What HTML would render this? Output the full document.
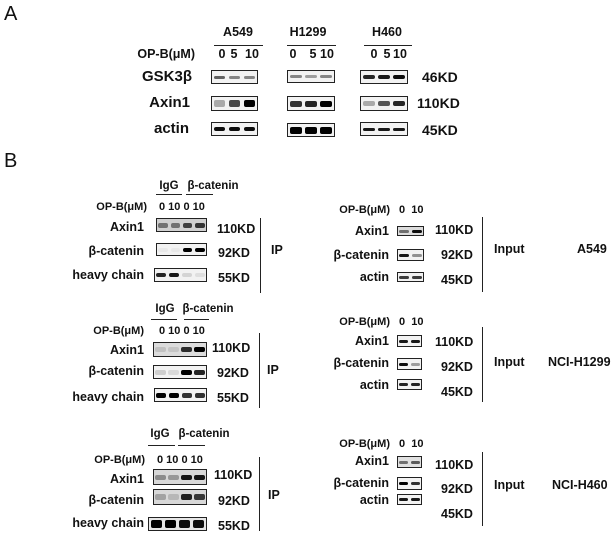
<!DOCTYPE html>
<html><head><meta charset="utf-8"><style>
html,body{margin:0;padding:0;background:#fff;}
#c{position:relative;width:616px;height:538px;overflow:hidden;background:#fff;font-family:"Liberation Sans",Arial,sans-serif;color:#111;}
.t{position:absolute;white-space:pre;font-weight:bold;}
.b{position:absolute;border:1px solid #222;box-sizing:border-box;background:#f2f2f2;overflow:hidden;}
.band{position:absolute;border-radius:2px;}
.l{position:absolute;background:#222;}
</style></head><body><div id="c"></div>
<script>
var C=document.getElementById('c');
function t(x,y,s,fs,al,fw){var d=document.createElement('div');d.className='t';d.textContent=s;d.style.fontSize=fs+'px';d.style.lineHeight=(fs*1.2)+'px';d.style.top=(y-fs*0.6)+'px';if(fw)d.style.fontWeight=fw;
if(al=='r'){d.style.left=(x-300)+'px';d.style.width='300px';d.style.textAlign='right';}else if(al=='c'){d.style.left=(x-150)+'px';d.style.width='300px';d.style.textAlign='center';}else d.style.left=x+'px';C.appendChild(d);}
function ln(x1,y1,x2,y2){var d=document.createElement('div');d.className='l';d.style.left=x1+'px';d.style.top=y1+'px';d.style.width=Math.max(1,x2-x1)+'px';d.style.height=Math.max(1,y2-y1)+'px';C.appendChild(d);}
function box(x1,y1,x2,y2,lanes,th,bg){var d=document.createElement('div');d.className='b';d.style.left=x1+'px';d.style.top=y1+'px';d.style.width=(x2-x1)+'px';d.style.height=(y2-y1)+'px';if(bg)d.style.background=bg;
var w=x2-x1-2,h=y2-y1-2,n=lanes.length;for(var i=0;i<n;i++){var b=document.createElement('div');b.className='band';var bw=w/n*0.78;b.style.left=((i+0.5)*w/n-bw/2)+'px';b.style.width=bw+'px';b.style.top=(h/2-th/2)+'px';b.style.height=th+'px';b.style.background='rgba(0,0,0,'+lanes[i]+')';d.appendChild(b);}C.appendChild(d);}
// Panel labels
t(4,14,'A',20,'l','normal');t(4,161,'B',20,'l','normal');
// Part A
t(238,32,'A549',12.5,'c');t(308,32,'H1299',12.5,'c');t(387,32,'H460',12.5,'c');
ln(214,45,263,46);ln(287,45,336,46);ln(364,45,412,46);
t(195,54,'OP-B(μM)',12.5,'r');
[[222,'0'],[234,'5'],[252,'10'],[293,'0'],[313,'5'],[327,'10'],[374,'0'],[387,'5'],[400,'10']].forEach(function(a){t(a[0],54,a[1],12.5,'c');});
t(192,77,'GSK3β',15,'r');t(190,103,'Axin1',15,'r');t(189,129,'actin',15,'r');
box(211,70,258,84,[.6,.45,.45],3);box(287,70,335,83,[.45,.35,.45],3);box(360,70,408,84,[.85,.9,.95],4);
box(211,96,258,111,[.3,.7,1],7);box(287,96,335,111,[.8,.85,1],6);box(360,96,408,111,[.3,.65,.85],5);
box(211,122,258,136,[.95,.95,.95],4);box(287,123,335,137,[1,1,1],7);box(360,122,408,136,[.9,.9,.9],3);
t(422,77,'46KD',14);t(417,103,'110KD',14);t(422,130,'45KD',14);
// Part B IP blocks
function ip(o){
t(o.ig,o.hy,'IgG',11.5,'c');t(o.bc,o.hy,'β-catenin',11.5,'c');
ln(o.u1[0],o.uy,o.u1[1],o.uy+1);ln(o.u2[0],o.uy,o.u2[1],o.uy+1);
t(o.opx,o.opy,'OP-B(μM)',11,'r');t(o.nx,o.opy,'0 10 0 10',11,'l');
t(144,o.r[0][5],'Axin1',12.5,'r');t(144,o.r[1][5],'β-catenin',12.5,'r');t(144,o.r[2][5],'heavy chain',12.5,'r');
o.r.forEach(function(r){box(r[0],r[1],207,r[2],r[3],r[4],r[6]);t(r[7],r[8],r[9],12.5);});
ln(o.vx,o.v[0],o.vx+1,o.v[1]);t(o.ipx,o.ipy,'IP',12.5);
}
ip({ig:169,bc:213,hy:187,uy:194,u1:[156,182],u2:[186,213],opx:147,opy:208,nx:159,
r:[[156,218,232,[.45,.45,.7,.75],5,227,'#d0d0d0',217,229,'110KD'],[156,243,256,[.04,.04,1,1],4,251,'#f2f2f2',218,253,'92KD'],[154,268,282,[.85,.9,.12,.08],4,275,'#f2f2f2',218,278,'55KD']],
vx:260,v:[218,293],ipx:271,ipy:250});
ip({ig:165,bc:208,hy:310,uy:319,u1:[151,177],u2:[184,209],opx:144,opy:332,nx:159,
r:[[153,342,357,[.12,.1,.8,1],5,350,'#dcdcdc',212,348,'110KD'],[153,365,379,[.15,.1,1,.85],5,371,'#f2f2f2',217,373,'92KD'],[154,388,402,[1,1,.8,.8],5,397,'#f2f2f2',217,398,'55KD']],
vx:259,v:[333,408],ipx:267,ipy:370});
ip({ig:160,bc:204,hy:435,uy:445,u1:[148,175],u2:[178,205],opx:145,opy:461,nx:157,
r:[[153,469,485,[.35,.3,.9,.9],5,479,'#d8d8d8',214,475,'110KD'],[153,489,505,[.25,.15,.85,.75],6,500,'#d8d8d8',218,501,'92KD'],[148,517,531,[1,1,.95,.95],8,523,'#e6e6e6',218,526,'55KD']],
vx:259,v:[457,531],ipx:268,ipy:495});
// Input blocks
function inp(o){
t(390,o.opy,'OP-B(μM)',11,'r');t(399,o.opy,'0  10',11,'l');
t(389,o.r[0][3],'Axin1',12.5,'r');t(389,o.r[1][3],'β-catenin',12.5,'r');t(389,o.r[2][3],'actin',12.5,'r');
o.r.forEach(function(r){box(397,r[0],o.x2||422,r[1],r[2],3,r[4]);});
t(435,o.k[0],'110KD',12.5);t(441,o.k[1],'92KD',12.5);t(441,o.k[2],'45KD',12.5);
ln(482,o.v[0],483,o.v[1]);t(494,o.iy,'Input',12.5);t(o.cx,o.iy,o.cell,12.5);
}
inp({opy:211,x2:424,r:[[226,236,[.5,.95],231,'#dcdcdc'],[249,261,[.9,.4],255],[272,282,[.75,.75],277]],k:[230,255,280],v:[217,292],iy:249,cx:577,cell:'A549'});
inp({opy:323,r:[[335,347,[.9,.9],341],[358,370,[.95,.35],363],[379,390,[.85,.85],385]],k:[342,367,392],v:[327,402],iy:362,cx:548,cell:'NCI-H1299'});
inp({opy:445,r:[[456,468,[.5,.6],461,'#e0e0e0'],[477,490,[1,.8],483],[494,505,[.9,.9],500]],k:[465,489,514],v:[452,526],iy:485,cx:552,cell:'NCI-H460'});
</script></body></html>
